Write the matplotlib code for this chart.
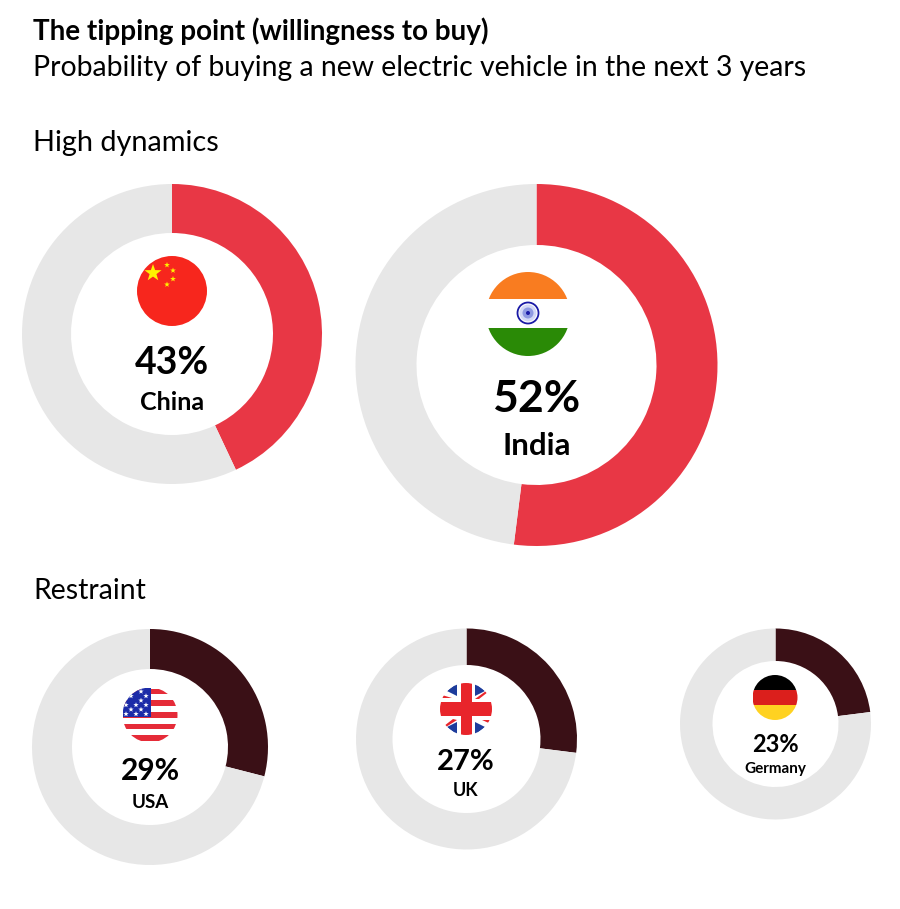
import numpy as np
import matplotlib
matplotlib.use("Agg")
import matplotlib.pyplot as plt
from matplotlib.patches import Circle, Rectangle, Polygon

W, H = 900, 909

countries = ["China", "India", "USA", "UK", "Germany"]
shares = [43, 52, 29, 27, 23]
colors = ["#E83745", "#E83745", "#3A1016", "#3A1016", "#3A1016"]
rest_color = "#E7E7E7"

# centre x, centre y, outer radius, inner radius (image pixels)
rings = [(172, 334, 150, 101), (536.5, 365, 181, 120), (150, 747, 118, 78),
         (466.5, 739, 110.5, 74), (775.5, 724, 95.5, 63)]
pct_pos = [(172, 363, 27), (536.5, 399, 32), (150, 771, 21.5), (466, 762, 21), (775, 744, 17)]
name_pos = [(172, 402, 18), (536.5, 446, 22.5), (150, 802, 13.5), (466, 791, 13), (775, 769, 11)]

plt.rcParams["font.family"] = ["Lato", "DejaVu Sans"]

fig = plt.figure(figsize=(W / 100, H / 100), dpi=100)
ax = fig.add_axes([0, 0, 1, 1])


def Y(y):
    return H - y


def clip_circle(cx, cy, r):
    c = Circle((cx, Y(cy)), r, transform=ax.transData, fc="none", ec="none")
    ax.add_patch(c)
    return c


def band(x0, y0, x1, y1, color, clip, z=5):
    p = Rectangle((x0, Y(y1)), x1 - x0, y1 - y0, fc=color, ec="none", zorder=z)
    ax.add_patch(p)
    p.set_clip_path(clip)


def poly(pts, color, clip, z=5):
    p = Polygon([(x, Y(y)) for x, y in pts], fc=color, ec="none", zorder=z)
    ax.add_patch(p)
    p.set_clip_path(clip)


def star(cx, cy, r, color, clip=None, z=7):
    ang = np.pi / 2 + np.arange(10) * np.pi / 5
    rad = np.where(np.arange(10) % 2 == 0, r, r * 0.4)
    pts = np.column_stack([cx + rad * np.cos(ang), Y(cy) + rad * np.sin(ang)])
    p = Polygon(pts, fc=color, ec="none", zorder=z)
    ax.add_patch(p)
    if clip is not None:
        p.set_clip_path(clip)


def china(cx, cy, r):
    ax.add_patch(Circle((cx, Y(cy)), r, fc="#F7261D", ec="none", zorder=5))
    star(cx - 19, cy - 18, 9, "#FFF200")
    for dx, dy in [(-5, -26), (1, -20.5), (1, -12), (-5, -6.5)]:
        star(cx + dx, cy + dy, 3, "#FFF200")


def india(cx, cy, r):
    clip = clip_circle(cx, cy, r)
    band(cx - r, cy - r, cx + r, cy - 15, "#F97C20", clip)
    band(cx - r, cy + 13.5, cx + r, cy + r, "#2A8A06", clip)
    ax.add_patch(Circle((cx, Y(cy - 1)), 10.5, fc="white", ec="#1A1AA6", lw=1.3, zorder=6))
    ax.add_patch(Circle((cx, Y(cy - 1)), 8.5, fc="#D3D8F6", ec="none", zorder=7))
    ax.add_patch(Circle((cx, Y(cy - 1)), 5.5, fc="#8E99E2", ec="none", zorder=8))
    ax.add_patch(Circle((cx, Y(cy - 1)), 2, fc="#1A1AA6", ec="none", zorder=9))


def usa(cx, cy, r):
    clip = clip_circle(cx, cy, r)
    for i in range(5):
        top = cy - r + 1 + i * 11.7
        band(cx - r, top, cx + r, top + 5.6, "#E52B38", clip)
    band(cx - r, cy - r, cx + 1, cy + 2, "#1C2BA8", clip, z=6)
    for dy, xs in [(-23.5, [-9]), (-19, [-19, -4]), (-14.5, [-9]), (-10, [-24, -14, -4]),
                   (-5.5, [-19, -9]), (-1, [-24, -14, -4])]:
        for dx in xs:
            star(cx + dx, cy + dy, 2.8, "white", clip, z=7)


def uk(cx, cy, r):
    ax.add_patch(Circle((cx, Y(cy)), r + 0.5, fc="white", ec="none", zorder=4))
    clip = clip_circle(cx, cy, r)
    blue = "#1D3C9C"
    red = "#E8252B"
    for sx in (-1, 1):
        for sy in (-1, 1):
            poly([(cx + sx * 9, cy + sy * 26), (cx + sx * 9, cy + sy * 13),
                  (cx + sx * 19, cy + sy * 18)], blue, clip)
    # thin red diagonals, each corner is a bit different in the flag
    poly([(cx - 24, cy - 14), (cx - 24, cy - 11), (cx - 14, cy - 11)], red, clip, z=6)
    poly([(cx + 9, cy - 10), (cx + 13, cy - 10), (cx + 22, cy - 17), (cx + 20, cy - 18)], red, clip, z=6)
    poly([(cx - 22, cy + 17), (cx - 20, cy + 18), (cx - 9, cy + 11), (cx - 13, cy + 10)], red, clip, z=6)
    poly([(cx + 16, cy + 11), (cx + 25, cy + 11), (cx + 25, cy + 15)], red, clip, z=6)
    band(cx - 5.5, cy - r, cx + 5.5, cy + r, red, clip, z=7)
    band(cx - r, cy - 7, cx + r, cy + 7, red, clip, z=7)


def germany(cx, cy, r):
    clip = clip_circle(cx, cy, r)
    band(cx - r, cy - r, cx + r, cy - 7.5, "#000000", clip)
    band(cx - r, cy - 7.5, cx + r, cy + 7.5, "#DB1F1C", clip)
    band(cx - r, cy + 7.5, cx + r, cy + r, "#FFD221", clip)


for i, name in enumerate(countries):
    cx, cy, ro, ri = rings[i]
    ax.pie([shares[i], 100 - shares[i]], colors=[colors[i], rest_color],
           center=(cx, Y(cy)), radius=ro, startangle=90, counterclock=False,
           wedgeprops=dict(width=ro - ri, edgecolor="none"))
    px, py, ps = pct_pos[i]
    ax.text(px, Y(py), f"{shares[i]}%", ha="center", va="center", fontsize=ps,
            fontweight="bold", color="black", zorder=10)
    nx, ny, ns = name_pos[i]
    ax.text(nx, Y(ny), name, ha="center", va="center", fontsize=ns,
            fontweight="bold", color="black", zorder=10)

# flags
china(172, 291, 35)
india(528, 314, 42)
usa(150, 715, 27.5)
uk(466, 709, 26)
germany(775, 697.5, 22.5)

ax.text(33, Y(31), "The tipping point (willingness to buy)", fontsize=20, fontweight="bold",
        va="center", ha="left", color="black")
ax.text(33, Y(68), "Probability of buying a new electric vehicle in the next 3 years", fontsize=20.4,
        va="center", ha="left", color="black")
ax.text(33, Y(143), "High dynamics", fontsize=20.8, va="center", ha="left", color="black")
ax.text(33, Y(591), "Restraint", fontsize=20.4, va="center", ha="left", color="black")

ax.set_xlim(0, W)
ax.set_ylim(0, H)
ax.set_aspect("auto")
ax.axis("off")

fig.savefig("out.png", dpi=100, facecolor="white")
